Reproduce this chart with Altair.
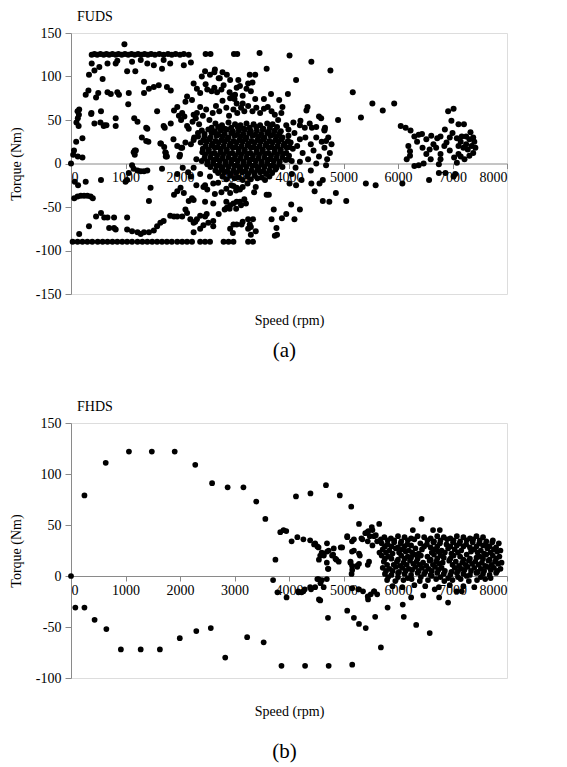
import altair as alt
import pandas as pd

# ---------------- FUDS (a) ----------------
fuds_top_row = [(380,125),(430,126),(480,125),(540,126),(600,125),(650,126),(700,125),(760,126),(820,125),
    (870,126),(930,125),(990,126),(1050,125),(1110,126),(1170,125),(1230,126),(1290,125),(1350,126),(1410,125),
    (1470,126),(1540,125),(1620,126),(1700,125),(1780,126),(1850,125),(1920,126),(2000,125),(2070,126),(2160,125),
    (2470,126),(2560,126),(2990,126),(3050,126),(3460,127)]

fuds_upper = [(980,137),(380,115),(520,111),(330,102),(430,107),(580,97),(320,84),(270,79),(500,81),(670,115),
    (820,115),(850,118),(1030,106),(1180,106),(1120,117),(1280,119),(1400,115),(1520,113),(1700,119),(1820,115),
    (2070,113),(1670,109),(2200,116),(1340,94),(1430,86),(1520,88),(1610,90),(1760,88),(1830,84),(1060,81),
    (1340,81),(880,79),(670,82),(850,82),(460,76),(730,80),(1050,68),(550,60),(120,60),(125,52),(100,47),(145,56),
    (370,57),(430,46),(610,44),(820,52),(820,43),(1160,52),(1220,48),(1400,40),(1580,60),(1700,43),(1830,46),
    (1890,61),(1950,65),(1980,55),(2040,58),(2100,71),(2130,77),(2220,73),(2250,56),(2310,58),(2370,65),(2250,92),
    (2310,86),(2370,81),(2400,100),(2460,106),(2550,102),(2640,108),(2730,98),(2800,90),(2920,96),(3010,79),
    (3040,69),(2920,75),(3220,86),(3250,92),(3280,102),(3590,109),(4010,124),(4130,96),(4410,117),(4760,107),
    (5170,82),(5320,53),(5530,69),(5720,61),(5930,69),(4320,61),(4590,52),(4200,44),(4380,46),(3950,44),(3990,39),
    (4500,42),(4650,38),(4900,50),(2630,105),(2710,98),(2780,105),(2860,102),(2470,91),(2500,85),(2580,83),
    (2630,87),(2680,82),(2760,85),(2910,82),(2970,78),(3000,74),(3150,78),(3150,69),(3070,96),(3100,89),(3040,87),
    (3330,93),(3380,102),(3300,83),(3380,74),(3540,74),(3670,80),(3820,73),(3980,80),(3880,65),(4340,65),(4550,54),
    (4660,41),(4080,47),(4210,49),(4420,41),(4290,41),(2160,40),(2230,48),(2290,52),(2350,45),(2420,55),(2480,62),
    (2540,50),(2600,58),(2660,66),(2720,60),(2780,72),(2850,64),(2900,55),(2980,62),(3050,58),(3120,64),(3180,60),
    (3250,66),(3330,60),(3400,64),(3470,58),(3540,63),(3610,65),(3680,60),(3740,56),(3800,50),(3860,58),(2260,30),
    (2330,35),(2200,22),(95,25),(210,29),(55,15),(40,10),(125,8),(210,7),(1380,26),(1170,15),(1170,10),(1710,19),
    (1740,12),(1740,8),(2020,18),(1990,8),(2250,27),(2330,31),(1380,41),(1720,41),(2020,50),(2080,54),(2130,43),
    (150,62),(140,43),(375,58),(540,47),(600,43),(650,44),(1300,30),(1420,25),(1650,23),(1730,13),(1760,8),
    (1880,28),(1950,20),(2040,18),(2100,24),(2000,10)]

fuds_blob = [(2650,46),(2770,44),(2890,47),(3010,45),(3110,44),(3220,46),(3350,45),(3470,44),(3600,46),(3700,45),
    (2400,38),(2520,39),(2640,37),(2750,38),(2860,39),(2970,37),(3080,38),(3190,39),(3300,37),(3410,38),(3520,39),
    (3630,37),(3740,38),(3850,37),(2450,31),(2560,30),(2670,32),(2780,31),(2890,30),(3000,32),(3110,31),(3220,30),
    (3330,32),(3440,31),(3550,30),(3660,32),(3770,31),(3880,30),(3990,32),(2380,24),(2490,25),(2600,23),(2710,24),
    (2820,25),(2930,23),(3040,24),(3150,25),(3260,23),(3370,24),(3480,25),(3590,23),(3700,24),(3810,25),(3920,23),
    (4030,24),(2420,17),(2530,16),(2640,18),(2750,17),(2860,16),(2970,18),(3080,17),(3190,16),(3300,18),(3410,17),
    (3520,16),(3630,18),(3740,17),(3850,16),(3960,18),(4070,17),(2460,10),(2570,11),(2680,9),(2790,10),(2900,11),
    (3010,9),(3120,10),(3230,11),(3340,9),(3450,10),(3560,11),(3670,9),(3780,10),(3890,11),(4000,9),(2400,3),
    (2510,2),(2620,4),(2730,3),(2840,2),(2950,4),(3060,3),(3170,2),(3280,4),(3390,3),(3500,2),(3610,4),(3720,3),
    (3830,2),(3940,4),(4050,3),(2560,-4),(2670,-3),(2780,-5),(2890,-4),(3000,-3),(3110,-5),(3220,-4),(3330,-3),
    (3440,-5),(3550,-4),(3660,-3),(3770,-5),(3880,-4),(2700,-11),(2810,-10),(2920,-12),(3030,-11),(3140,-10),
    (3250,-12),(3360,-11),(3470,-10),(3580,-12),(3690,-11),(2850,-18),(3000,-17),(3150,-19),(3300,-18),(3420,-17),
    (3560,-19),(4100,35),(4200,28),(4150,20),(4250,12),(4300,30),(4350,5),(4400,22),(4450,15),(4500,30),(4550,8),
    (4600,25),(4650,18),(4700,5),(4720,30),(4750,12),(4780,22),(4680,-2),(4120,-5),(4200,2),(4050,-12),(4400,-8),
    (4500,0),(4680,26),(4650,39)]

fuds_blob_fill = [(2580,41),(2700,42),(2820,40),(2940,41),(3060,42),(3170,40),(3280,41),(3400,42),(3530,40),
    (3650,41),(3780,42),(2450,34),(2580,35),(2700,33),(2820,34),(2940,35),(3050,33),(3160,34),(3270,35),(3380,33),
    (3490,34),(3600,35),(3710,33),(3820,34),(2430,27),(2540,28),(2650,26),(2760,27),(2870,28),(2980,26),(3090,27),
    (3200,28),(3310,26),(3420,27),(3530,28),(3640,26),(3750,27),(3860,28),(3980,26),(2470,20),(2580,21),(2690,19),
    (2800,20),(2910,21),(3020,19),(3130,20),(3240,21),(3350,19),(3460,20),(3570,21),(3680,19),(3790,20),(3900,21),
    (4010,19),(2410,13),(2520,14),(2630,12),(2740,13),(2850,14),(2960,12),(3070,13),(3180,14),(3290,12),(3400,13),
    (3510,14),(3620,12),(3730,13),(3840,14),(3950,12),(2450,6),(2560,7),(2670,5),(2780,6),(2890,7),(3000,5),
    (3110,6),(3220,7),(3330,5),(3440,6),(3550,7),(3660,5),(3770,6),(3880,7),(3990,5),(2500,-1),(2610,0),(2720,-2),
    (2830,-1),(2940,0),(3050,-2),(3160,-1),(3270,0),(3380,-2),(3490,-1),(3600,0),(3710,-2),(3820,-1),(2650,-8),
    (2760,-7),(2870,-9),(2980,-8),(3090,-7),(3200,-9),(3310,-8),(3420,-7),(3530,-9),(3640,-8),(3750,-7),(2780,-15),
    (2920,-14),(3080,-16),(3230,-15),(3370,-14),(3500,-16),(3640,-15)]

fuds_right = [(6050,43),(6140,41),(6230,38),(6300,31),(6380,33),(6440,34),(6520,28),(6610,32),(6720,29),(6780,31),
    (6860,39),(6890,24),(6920,60),(7020,63),(6980,49),(7110,45),(7210,45),(6190,20),(6220,14),(6220,9),(6160,5),
    (6520,11),(6580,16),(6780,11),(6780,5),(7080,29),(7170,31),(7250,31),(7110,20),(7200,18),(7280,16),(7110,11),
    (7030,7),(7080,1),(7220,5),(7310,28),(7310,9),(6300,-3),(6380,-2),(6470,0),(6750,-1),(7350,20),(7380,12),
    (7400,25),(7420,18),(7250,22),(7150,25),(6950,15),(6850,20),(6650,22),(6450,18),(6350,25),(6600,5),(6700,18),
    (7050,-12),(6870,-11),(6750,-11),(7020,-15),(6570,-19),(7000,35),(6950,30),(7150,8),(7380,30),(7330,36)]

fuds_lower = [(0,0),(70,-21),(130,-25),(60,-40),(120,-38),(180,-37),(240,-37),(300,-37),(360,-38),(400,-40),(150,-81),
    (330,-72),(270,-21),(550,-19),(460,-61),(550,-57),(610,-62),(670,-62),(790,-62),(1030,-62),(700,-74),(790,-74),
    (820,-76),(1030,-76),(1120,-78),(1220,-79),(1280,-81),(1340,-79),(1430,-79),(1520,-77),(1580,-72),(1640,-68),
    (1700,-66),(1000,-21),(1030,-19),(1060,-11),(1120,-2),(1150,-6),(1220,-8),(1280,-9),(1340,-9),(1400,-8),
    (1190,15),(1150,13),(1460,-28),(1430,-43),(1670,-6),(1640,23),(1890,-36),(1950,-32),(2010,-28),(2070,-34),
    (1820,-60),(1890,-61),(1950,-61),(2040,-61),(2100,-53),(2130,-57),(2160,-43),(2220,-40),(2190,-64),(2250,-68),
    (2310,-64),(2370,-60),(2370,-75),(2250,-79),(2490,-58),(2520,-68),(2610,-66),(2610,-72),(2710,-58),(2860,-51),
    (2920,-48),(2980,-46),(3040,-44),(3100,-44),(3180,-41),(2920,-75),(2980,-70),(3040,-70),(3130,-70),(3250,-64),
    (3280,-70),(3250,-75),(3340,-64),(2920,-34),(2980,-26),(3040,-28),(3100,-30),(3590,-36),(3680,-64),(3770,-74),
    (3740,-83),(3950,-58),(4100,-64),(4040,-47),(4010,-23),(4130,-25),(4230,-19),(4410,-23),(4560,-23),(4620,-19),
    (4470,-32),(4620,-43),(4860,-34),(5050,-43),(5410,-23),(5590,-25),(6080,-23),(2370,-12),(2460,-25),(2430,-27),
    (2610,-23),(2640,-35),(2760,-33),(2850,-29),(2940,-25),(3030,-31),(3150,-27),(3240,-23),(3390,-27),(3360,-33),
    (2250,-42),(2460,-44),(2610,-46),(2850,-44),(2820,-53),(2910,-52),(3030,-52),(3120,-48),(3210,-46),(3630,-36),
    (3720,-53),(3870,-63),(3780,-82),(4200,-53),(4740,-44),(2280,-67),(2460,-61),(2430,-71),(2970,-80),(3150,-67),
    (3300,-73),(3300,-82),(3390,-78),(2150,-10),(2200,-15),(2250,-5),(2300,5),(2050,-5),(1950,-12),(2300,-25),
    (2500,-30),(2550,-15),(2700,-22)]

fuds_bottom_row = [(30,-90),(120,-90),(210,-90),(300,-90),(390,-90),(490,-90),(580,-90),(670,-90),(760,-90),
    (850,-90),(940,-90),(1030,-90),(1120,-90),(1220,-90),(1310,-90),(1400,-90),(1490,-90),(1580,-90),(1670,-90),
    (1760,-90),(1850,-90),(1950,-90),(2040,-90),(2130,-90),(2220,-90),(2370,-90),(2460,-90),(2550,-90),(2800,-90),
    (2890,-90),(2980,-90),(3250,-90),(3340,-90)]

# ---------------- FHDS (b) ----------------
fhds_upper = [(0,0),(247,79),(637,111),(1063,122),(1483,122),(1903,122),(2280,109),(2589,91),(2874,87),(3164,87),
    (3399,73),(3566,56),(3751,16),(3708,-4),(3840,43),(3900,45),(3950,44),(4048,34),(4153,38),(4264,36),(4388,35),
    (4480,32),(4542,28),(4128,78),(4394,81),(4678,89),(4932,79),(5142,68),(5284,51),(5519,48),(5655,51),(6433,56),
    (6272,45),(6643,45),(6767,45)]

fhds_lower = [(80,-31),(247,-31),(433,-43),(649,-52),(915,-72),(1279,-72),(1631,-72),(1996,-61),(2299,-54),
    (2565,-51),(2830,-80),(3232,-60),(3535,-65),(3862,-88),(4295,-88),(4728,-88),(5160,-87),(5686,-70)]

fhds_middle = [(3788,-16),(3955,-21),(4171,-15),(4264,-15),(4388,-11),(4480,-11),(4542,-3),(4604,-4),(4573,-24),
    (4715,-41),(5068,-34),(5191,-41),(5284,-47),(5408,-51),(5451,-23),(5581,-40),(5500,-18),(5562,-15),(5160,-12),
    (5284,-13),(5809,-31),(6087,-28),(6106,-40),(6334,-48),(6582,-56),(6464,-19),(6241,-21),(6674,-13),(6755,-21),
    (7076,-15),(7169,-15),(6919,-26),(4573,20),(4635,22),(4697,32),(4728,25),(4790,20),(4821,27),(4852,17),(4913,14),
    (4715,7),(4975,28),(5068,39),(5130,14),(5160,6),(5148,2),(5191,25),(5191,36),(5346,36),(5439,43),(5482,39),
    (5469,14),(5531,45),(5593,40),(5531,30),(5686,36),(5284,22),(5253,9),(5284,12),(4520,29),(4460,31),(4600,23),
    (4640,20),(4700,24),(4810,21),(4870,16),(4950,28),(4549,16),(4694,13),(4722,7),(5127,13),(5156,10),(5243,10),
    (5300,20),(5445,11),(5156,24),(4694,-3),(4520,-3),(4578,-7),(4636,-11),(4289,-13),(4405,-13),(4173,-16),
    (4231,-16),(5272,-13),(5358,-15),(5445,-20),(5561,-15),(5618,-18),(4549,-23),(5400,42),(5456,44),(5069,38),
    (5156,34),(5329,37),(5445,34),(5561,39),(5618,34)]

fhds_blob = [(5750,38),(5870,37),(6000,39),(6120,38),(6240,37),(6360,39),(6480,38),(6600,37),(6720,39),(6840,38),
    (6960,37),(7080,39),(7200,38),(7320,37),(7440,39),(7560,38),
    (5700,32),(5810,31),(5930,33),(6050,32),(6170,31),(6410,32),(6530,31),(6650,33),(6770,32),(6890,31),(7010,33),
    (7130,32),(7250,31),(7370,33),(7490,32),(7610,31),(7730,33),(7850,32),
    (5720,26),(5840,25),(5960,27),(6080,26),(6200,25),(6320,27),(6440,26),(6680,26),(6800,25),(6920,27),(7040,26),
    (7160,25),(7400,26),(7520,25),(7640,27),(7760,26),(7880,25),
    (5700,20),(5820,19),(6060,20),(6180,19),(6300,21),(6420,20),(6540,19),(6660,21),(6780,20),(7020,20),(7140,19),
    (7260,21),(7500,19),(7620,21),(7740,20),(7860,19),
    (5740,14),(5980,14),(6100,13),(6220,15),(6340,14),(6460,13),(6580,15),(6700,14),(6820,13),(6940,15),(7060,14),
    (7180,13),(7300,15),(7420,14),(7540,13),(7660,15),(7780,14),(7900,13),
    (5720,8),(5840,7),(5960,9),(6080,8),(6200,7),(6320,9),(6440,8),(6560,7),(6680,9),(6800,8),(7040,8),(7160,7),
    (7280,9),(7400,8),(7520,7),(7640,9),(7760,8),(7880,7),
    (5760,2),(5880,1),(6000,3),(6120,2),(6240,1),(6360,3),(6480,2),(6600,1),(6720,3),(6840,2),(6960,1),(7080,3),
    (7200,2),(7320,1),(7440,3),(7560,2),(7680,1),(7800,3),
    (5800,-4),(5950,-5),(6100,-4),(6250,-3),(6400,-5),(6550,-4),(6700,-3),(6850,-5),(7000,-4),(7150,-3),(7300,-5),
    (7450,-4),(7600,-3),
    (5900,-10),(6080,-11),(6300,-9),(6500,-10),(6750,-11),(6950,-9),(7200,-10),(7400,-11)]

fhds_blob_fill = [(5810,35),(5930,35),(6060,34),(6180,35),(6300,36),(6540,35),(6660,34),(6780,35),(6900,36),
    (7020,35),(7140,34),(7260,35),(7380,36),(7500,35),(7620,34),(7740,35),
    (5760,29),(5880,29),(6000,28),(6120,29),(6240,30),(6480,29),(6600,28),(6720,29),(6960,29),(7080,30),(7200,29),
    (7320,28),(7440,29),(7560,30),(7680,29),(7800,28),
    (5660,23),(5780,23),(5900,22),(6020,23),(6140,24),(6260,23),(6380,22),(6620,23),(6740,24),(6860,23),(6980,22),
    (7100,23),(7340,24),(7460,23),(7580,22),(7700,23),(7820,24),
    (5760,17),(5880,17),(6000,16),(6120,17),(6240,18),(6360,17),(6600,16),(6720,17),(6840,18),(6960,17),(7200,16),
    (7320,17),(7440,18),(7560,17),(7680,16),(7800,17),
    (5800,11),(5920,11),(6040,10),(6160,11),(6280,12),(6400,11),(6520,10),(6640,11),(6760,12),(7000,11),(7120,10),
    (7240,11),(7360,12),(7480,11),(7600,10),(7720,11),(7840,12),
    (5780,5),(5900,5),(6020,4),(6140,5),(6260,6),(6380,5),(6500,4),(6620,5),(6740,6),(6860,5),(6980,4),(7100,5),
    (7220,6),(7340,5),(7460,4),(7580,5),(7700,6),(7820,5),
    (5820,-1),(6000,-1),(6180,-2),(6420,-1),(6620,0),(6780,-1),(6920,-2),(7100,-1),(7260,0),(7520,-1),(7700,-2)]

X_TICKS = [0, 1000, 2000, 3000, 4000, 5000, 6000, 7000, 8000]
Y_TICKS_A = [-150, -100, -50, 0, 50, 100, 150]
Y_TICKS_B = [-100, -50, 0, 50, 100, 150]

FONT = "Liberation Serif"
GRAY = "#8a8a8a"
PLAIN = "'' + datum.value"


def frame(groups):
    rows = []
    for g in groups:
        rows.extend(g)
    return pd.DataFrame(rows, columns=["rpm", "tq"])


def panel(df, name, ydom, yticks, h, zero_from_bottom, title_y, size):
    return alt.Chart(df).mark_circle(size=size, color="black", opacity=1).encode(
        x=alt.X("rpm:Q", scale=alt.Scale(domain=[0, 8000], nice=False, zero=False),
                axis=alt.Axis(values=X_TICKS, labelExpr=PLAIN, title="Speed (rpm)", offset=-zero_from_bottom,
                              titleY=title_y, titleBaseline="middle", grid=False,
                              domainColor=GRAY, tickColor=GRAY, tickSize=5,
                              labelFont=FONT, labelFontSize=14, labelColor="black",
                              titleFont=FONT, titleFontSize=14, titleFontWeight="normal",
                              titleColor="black", labelPadding=2)),
        y=alt.Y("tq:Q", scale=alt.Scale(domain=ydom, nice=False, zero=False),
                axis=alt.Axis(values=yticks, labelExpr=PLAIN, title="Torque (Nm)", grid=False,
                              domainColor=GRAY, tickColor=GRAY, tickSize=6,
                              labelFont=FONT, labelFontSize=14, labelColor="black",
                              titleFont=FONT, titleFontSize=14, titleFontWeight="normal",
                              titleColor="black", labelPadding=4, titlePadding=12)),
    ).properties(
        width=436, height=h,
        title=alt.TitleParams(name, anchor="start", frame="group", dx=6, offset=2,
                              font=FONT, fontSize=14, fontWeight="normal", color="black"),
    )


df_a = frame([fuds_top_row, fuds_upper, fuds_blob, fuds_blob_fill, fuds_right, fuds_lower, fuds_bottom_row])
df_b = frame([fhds_upper, fhds_lower, fhds_middle, fhds_blob, fhds_blob_fill])

HA = 261
HB = 255
pa = panel(df_a, "FUDS", [-150, 150], Y_TICKS_A, HA, HA * 0.5, 157, 36)
pb = panel(df_b, "FHDS", [-100, 150], Y_TICKS_B, HB, HB * 0.4, 135, 33)

wa = alt.vconcat(pa, title=alt.TitleParams("(a)", orient="bottom", anchor="middle", dx=26, offset=12,
                                           font=FONT, fontSize=21, fontWeight="normal", color="black"))
wb = alt.vconcat(pb, title=alt.TitleParams("(b)", orient="bottom", anchor="middle", dx=26, offset=22,
                                           font=FONT, fontSize=21, fontWeight="normal", color="black"))

chart = alt.vconcat(wa, wb, spacing=38).configure_view(stroke=GRAY, strokeWidth=1).configure(
    font=FONT, padding={"left": 0, "top": 1, "right": 5, "bottom": 2})

chart.save("out.html", embed_options={"renderer": "svg", "actions": False})
